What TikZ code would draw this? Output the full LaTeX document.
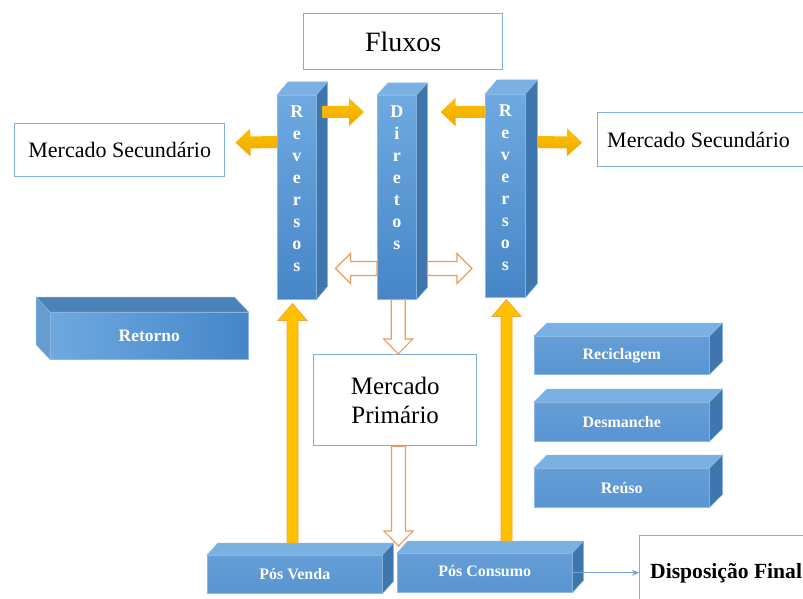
\documentclass[tikz,border=0pt]{standalone}
\usepackage{fontspec}
\setmainfont{Liberation Serif}
\usetikzlibrary{calc,arrows.meta}

\definecolor{boxline}{HTML}{7FADDD}
\definecolor{faceblue}{HTML}{5895D2}
\definecolor{facelight}{HTML}{6EA9E0}
\definecolor{facedark}{HTML}{4686C8}
\definecolor{topblue}{HTML}{7BB0E2}
\definecolor{sideblue}{HTML}{3F76AE}
\definecolor{edgeblue}{HTML}{8DB9E4}
\definecolor{gold}{HTML}{FFC000}
\definecolor{golddark}{HTML}{EDA900}
\definecolor{goldedge}{HTML}{F6A33A}
\definecolor{hollow}{HTML}{F19A5E}
\definecolor{thinblue}{HTML}{6FA3D8}

\tikzset{
  whitebox/.style={draw=boxline, line width=1.4pt, fill=white, inner sep=0pt, anchor=north west},
  blockface/.style={draw=edgeblue, line width=0.5pt, inner sep=0pt, anchor=north west,
    text=white, font=\bfseries\fontsize{16}{19}\selectfont},
  colface/.style={blockface, top color=facelight, bottom color=facedark},
  flatface/.style={blockface, top color=faceblue!92!white, bottom color=faceblue},
  topface/.style={fill=topblue, draw=edgeblue, line width=0.5pt},
  sideface/.style={fill=sideblue, draw=edgeblue, line width=0.5pt},
  letters/.style={inner sep=0pt, text=white, align=center, font=\bfseries\fontsize{18}{22}\selectfont},
  goldarrow/.style={top color=gold, bottom color=golddark, draw=none},
  goldup/.style={fill=gold, draw=goldedge, line width=0.8pt},
  hollowarrow/.style={fill=white, draw=hollow, line width=1.1pt},
}

% top face and right-hand face behind a front face node
\newcommand\depthright[3]{%
  \path[topface] (#1.north west) -- ++(#2,#3) -- ($(#1.north east)+(#2,#3)$) -- (#1.north east) -- cycle;
  \path[sideface] (#1.north east) -- ++(#2,#3) -- ($(#1.south east)+(#2,#3)$) -- (#1.south east) -- cycle;
}
% top face and left-hand face behind a front face node
\newcommand\depthleft[3]{%
  \path[sideface, fill=sideblue!35!topblue] (#1.north west) -- ++(#2,#3) -- ($(#1.south west)+(#2,#3)$) -- (#1.south west) -- cycle;
  \path[topface, fill=sideblue!80!topblue] (#1.north east) -- ++(#2,#3) -- ($(#1.north west)+(#2,#3)$) -- (#1.north west) -- cycle;
}
% block arrow: style, from, to, shaft half width, head half width, head length
\newcommand\blockarrow[6]{%
  \path[#1] let \p1=(#2), \p2=(#3), \n1={atan2(\y2-\y1,\x2-\x1)}, \n2={veclen(\x2-\x1,\y2-\y1)} in
    [shift={(\p1)}, rotate=\n1]
    (0,-#4) -- ({\n2-#6},-#4) -- ({\n2-#6},-#5) -- ({\n2},0) -- ({\n2-#6},#5) -- ({\n2-#6},#4) -- (0,#4) -- cycle;
}

\begin{document}
\begin{tikzpicture}[x=1pt,y=-1pt]
\useasboundingbox (0,0) rectangle (803,599);
\clip (0,0) rectangle (803,599);
\fill[white] (0,0) rectangle (803,599);

% title and market boxes
\node[whitebox, minimum width=199pt, minimum height=56pt, font=\fontsize{28}{34}\selectfont] (flux) at (303,13) {Fluxos};
\node[whitebox, minimum width=210pt, minimum height=53pt, font=\fontsize{22}{26}\selectfont] (msL) at (14,123) {Mercado Secundário};
\node[whitebox, minimum width=230pt, minimum height=54pt] (msR) at (597,112) {};
\node[anchor=west, inner sep=0pt, font=\fontsize{22}{26}\selectfont] (msRt) at (607,140) {Mercado Secundário};
\node[whitebox, minimum width=163pt, minimum height=91pt, align=center, font=\fontsize{25}{29}\selectfont] (mp) at (313,354) {Mercado\\Primário};
\node[whitebox, minimum width=200pt, minimum height=80pt] (disp) at (639,535) {};
\node[anchor=west, inner sep=0pt, font=\bfseries\fontsize{21.6}{25}\selectfont] (dispt) at (650,573) {Disposição Final};

% flow columns
\node[colface, minimum width=39pt, minimum height=204pt] (revL) at (277,95) {};
\depthright{revL}{11}{-13}
\node[letters, anchor=north] (revLt) at ($(revL.north)+(0,11)$) {R\\e\\v\\e\\r\\s\\o\\s};

\node[colface, minimum width=39pt, minimum height=204pt] (dir) at (377,95) {};
\depthright{dir}{11}{-12}
\node[letters, anchor=north] (dirt) at ($(dir.north)+(0,11)$) {D\\i\\r\\e\\t\\o\\s};

\node[colface, minimum width=40pt, minimum height=203pt] (revR) at (485,94) {};
\depthright{revR}{12}{-14}
\node[letters, anchor=north] (revRt) at ($(revR.north)+(0,11)$) {R\\e\\v\\e\\r\\s\\o\\s};

% return block
\node[blockface, left color=facelight, right color=facedark, minimum width=198pt, minimum height=47pt,
  font=\bfseries\fontsize{17.5}{20}\selectfont] (ret) at (50,312) {Retorno};
\depthleft{ret}{-14}{-15}

% recovery options
\node[flatface, minimum width=175pt, minimum height=38pt] (rec) at (534,336) {Reciclagem};
\depthright{rec}{13}{-13}
\node[flatface, minimum width=175pt, minimum height=39pt] (des) at (534,402) {Desmanche};
\depthright{des}{13}{-13}
\node[flatface, minimum width=175pt, minimum height=39pt] (reu) at (534,468) {Reúso};
\depthright{reu}{13}{-13}

% after-sale and after-consumption blocks
\node[flatface, minimum width=175pt, minimum height=38pt] (pv) at (207,555) {Pós Venda};
\depthright{pv}{11}{-12}
\node[flatface, minimum width=175pt, minimum height=39pt] (pc) at (397,553) {\raisebox{3pt}{Pós Consumo}};
\depthright{pc}{11}{-12}

% arrow end points
\coordinate (y1s) at ($(revL.north east)+(6,17)$);
\coordinate (y1e) at ($(dir.north west)+(-13,17)$);
\coordinate (y2s) at ($(revR.north west)+(0,18)$);
\coordinate (y2e) at ($(dir.north east)+(24,17)$);
\coordinate (y3s) at ($(revL.north west)+(0,47)$);
\coordinate (y3e) at ($(msL.east)+(10,-7.5)$);
\coordinate (y4s) at ($(revR.north east)+(12,48)$);
\coordinate (y4e) at ($(msR.west)+(-15,3)$);

\coordinate (h1s) at ($(dir.south west)+(0,-31)$);
\coordinate (h1e) at ($(revL.south east)+(19,-31)$);
\coordinate (h2s) at ($(dir.south east)+(11,-31)$);
\coordinate (h2e) at ($(revR.south west)+(-13,-29)$);
\coordinate (h3s) at ($(dir.south)+(1.5,0)$);
\coordinate (h3e) at (mp.north -| h3s);
\coordinate (h4e) at ($(pv.north east)+(16,-9)$);
\coordinate (h4s) at (mp.south -| h4e);

\coordinate (u1s) at ($(pv.north west)+(85.5,-12)$);
\coordinate (u1e) at ($(u1s |- revL.south)+(0,4)$);
\coordinate (u2s) at ($(pc.north west)+(109.5,-12)$);
\coordinate (u2e) at ($(u2s |- revR.south)+(0,2)$);

% gold flow arrows
\blockarrow{goldarrow}{y1s}{y1e}{6}{14}{15}
\blockarrow{goldarrow}{y2s}{y2e}{6}{14}{15}
\blockarrow{goldarrow}{y3s}{y3e}{6}{14}{15}
\blockarrow{goldarrow}{y4s}{y4e}{6}{14}{15}
\blockarrow{goldup}{u1s}{u1e}{5.5}{14.5}{17}
\blockarrow{goldup}{u2s}{u2e}{5.5}{14.5}{17}

% hollow arrows from the direct flow
\blockarrow{hollowarrow}{h1s}{h1e}{7}{15}{15}
\blockarrow{hollowarrow}{h2s}{h2e}{7}{15}{15}
\blockarrow{hollowarrow}{h3s}{h3e}{7}{14.5}{15}
\blockarrow{hollowarrow}{h4s}{h4e}{7}{14.5}{15}

% to final disposal
\draw[thinblue, line width=1pt, -{Stealth[length=7pt,width=6pt]}] (pc.east) -- (disp.west |- pc.east);
\end{tikzpicture}
\end{document}
